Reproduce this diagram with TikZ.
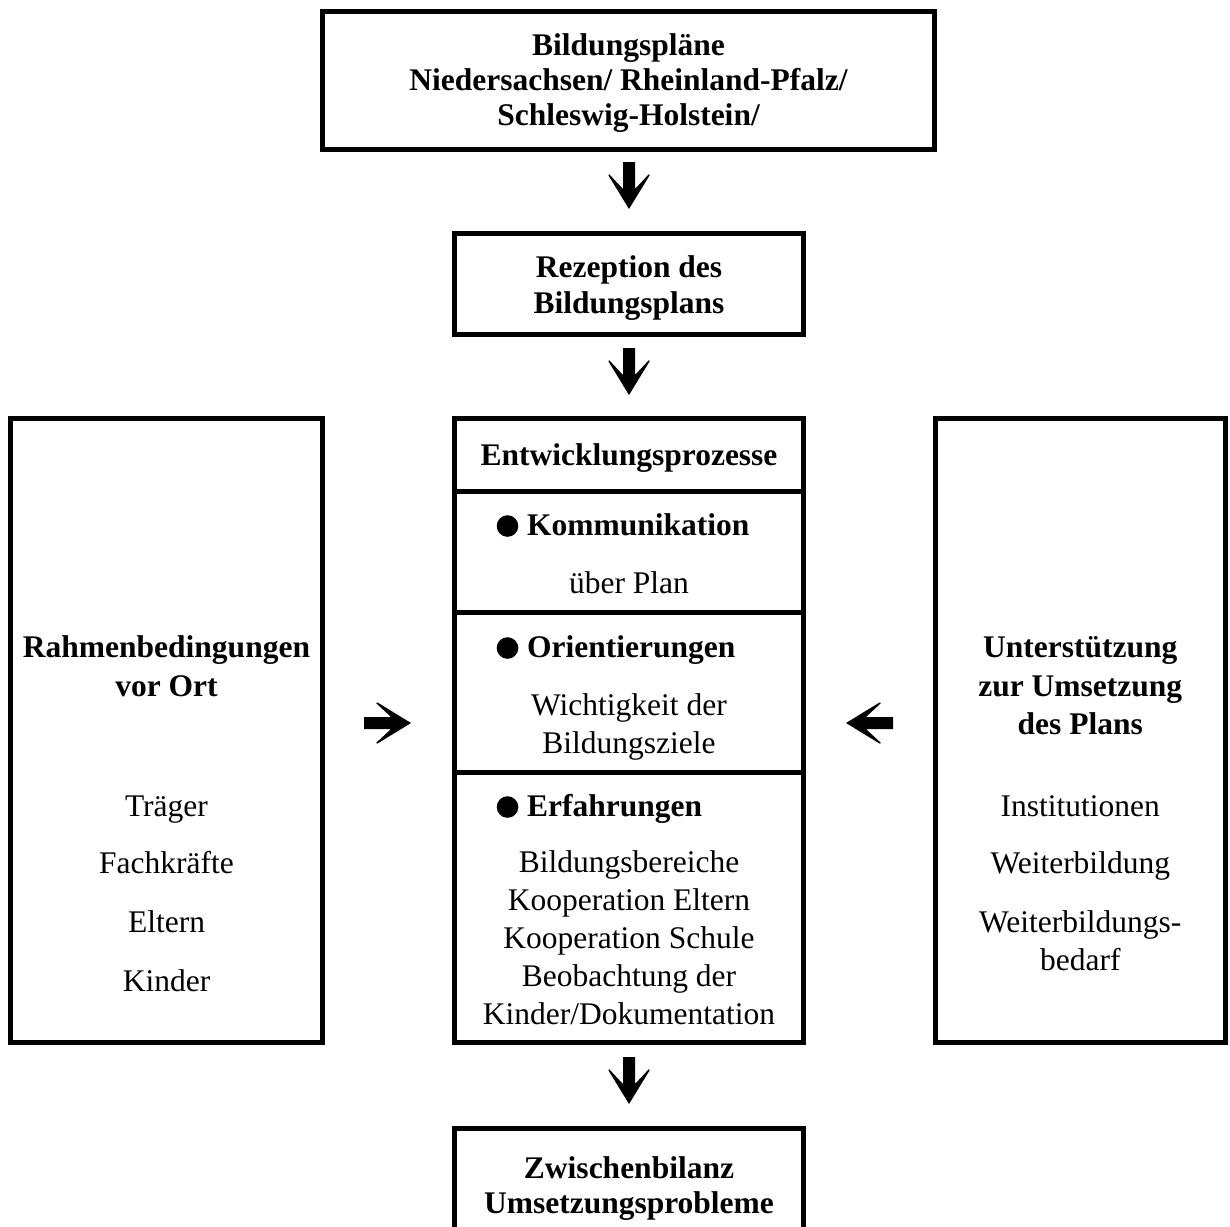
\documentclass[tikz,border=0pt]{standalone}
\usepackage{fontspec}
\setmainfont{Liberation Serif}
\begin{document}
\begin{tikzpicture}[x=1pt,y=-1pt,
  box/.style={draw, line width=5pt, inner sep=0pt},
  txt/.style={inner sep=0pt, anchor=base, font=\fontsize{31.5}{36}\selectfont},
  btxt/.style={inner sep=0pt, anchor=base, font=\fontsize{31.5}{36}\selectfont\bfseries},
  bul/.style={inner sep=0pt, anchor=base west, font=\fontsize{31.5}{36}\selectfont\bfseries},
  dot/.style={fill=black},
  pics/barrow/.style={code={\fill (-6,0) -- (6,0) -- (6,27) -- (20,12) -- (20.5,13.5) -- (0,47) -- (-20.5,13.5) -- (-20,12) -- (-6,27) -- cycle;}}
]
\useasboundingbox (0,0) rectangle (1230,1226);
\clip (0,0) rectangle (1230,1226);
\fill[white] (0,0) rectangle (1230,1226);

% boxes
\node[box, minimum width=612pt, minimum height=138pt] (top) at (628.5,80.5) {};
\node[box, minimum width=349pt, minimum height=101pt] (rez) at (629,284) {};
\node[box, minimum width=349pt, minimum height=624pt] (mid) at (629,730.5) {};
\node[box, minimum width=312pt, minimum height=624pt] (lft) at (166.5,730.5) {};
\node[box, minimum width=290.5pt, minimum height=624pt] (rgt) at (1080.25,730.5) {};
\node[box, minimum width=349pt, minimum height=121pt] (bot) at (629,1189) {};

% dividers in middle box
\draw[line width=5pt] (mid.west |- 0,491) -- (mid.east |- 0,491);
\draw[line width=5pt] (mid.west |- 0,612) -- (mid.east |- 0,612);
\draw[line width=5pt] (mid.west |- 0,772) -- (mid.east |- 0,772);

% block arrows
\pic at (629,162) {barrow};
\pic at (629,348) {barrow};
\pic at (629,1057) {barrow};
\pic[rotate=90] at (364,723) {barrow};
\pic[rotate=-90] at (893,723) {barrow};

% top box text
\node[btxt] (t1) at (628.5,55) {Bildungspläne};
\node[btxt] (t2) at (628.5,90) {Niedersachsen/ Rheinland-Pfalz/};
\node[btxt] (t3) at (628.5,125) {Schleswig-Holstein/};

% Rezeption
\node[btxt] (r1) at (629,277) {Rezeption des};
\node[btxt] (r2) at (629,313) {Bildungsplans};

% middle column
\node[btxt] (m0) at (629,465) {Entwicklungsprozesse};
\fill[dot] (507.5,526) circle (10.8);
\node[bul] (m1) at (527,535) {Kommunikation};
\node[txt] (m1a) at (629,593) {über Plan};
\fill[dot] (507.5,648) circle (10.8);
\node[bul] (m2) at (527,657) {Orientierungen};
\node[txt] (m2a) at (629,715) {Wichtigkeit der};
\node[txt] (m2b) at (629,753) {Bildungsziele};
\fill[dot] (507.5,807) circle (10.8);
\node[bul] (m3) at (527,816) {Erfahrungen};
\node[txt] (m3a) at (629,872) {Bildungsbereiche};
\node[txt] (m3b) at (629,910) {Kooperation Eltern};
\node[txt] (m3c) at (629,948) {Kooperation Schule};
\node[txt] (m3d) at (629,986) {Beobachtung der};
\node[txt] (m3e) at (629,1024) {Kinder/Dokumentation};

% left column
\node[btxt] (l1) at (166.5,657) {Rahmenbedingungen};
\node[btxt] (l2) at (166.5,696) {vor Ort};
\node[txt] (l3) at (166.5,816) {Träger};
\node[txt] (l4) at (166.5,873) {Fachkräfte};
\node[txt] (l5) at (166.5,932) {Eltern};
\node[txt] (l6) at (166.5,991) {Kinder};

% right column
\node[btxt] (q1) at (1080.25,657) {Unterstützung};
\node[btxt] (q2) at (1080.25,696) {zur Umsetzung};
\node[btxt] (q3) at (1080.25,734) {des Plans};
\node[txt] (q4) at (1080.25,816) {Institutionen};
\node[txt] (q5) at (1080.25,873) {Weiterbildung};
\node[txt] (q6) at (1080.25,932) {Weiterbildungs-};
\node[txt] (q7) at (1080.25,970) {bedarf};

% bottom
\node[btxt] (b1) at (629,1178) {Zwischenbilanz};
\node[btxt] (b2) at (629,1213) {Umsetzungsprobleme};
\end{tikzpicture}
\end{document}
